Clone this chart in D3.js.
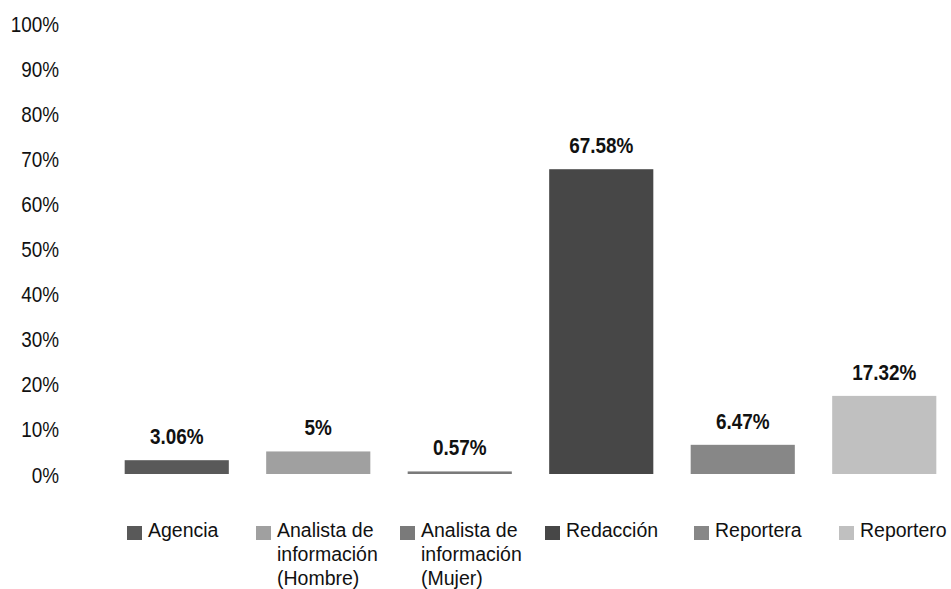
<!DOCTYPE html>
<html>
<head>
<meta charset="utf-8">
<script src="https://cdn.jsdelivr.net/npm/d3@7"></script>
<style>
  html, body { margin: 0; padding: 0; background: #fff; }
  svg { display: block; }
</style>
</head>
<body>
<svg id="chart" width="951" height="589"></svg>
<script>
// Share of items by author type
const categories = ["Agencia", "Analista de información (Hombre)", "Analista de información (Mujer)", "Redacción", "Reportera", "Reportero"];
const legendLines = [["Agencia"], ["Analista de", "información", "(Hombre)"], ["Analista de", "información", "(Mujer)"], ["Redacción"], ["Reportera"], ["Reportero"]];
const values = [3.06, 5, 0.57, 67.58, 6.47, 17.32];
const valueLabels = ["3.06%", "5%", "0.57%", "67.58%", "6.47%", "17.32%"];
const colors = ["#595959", "#a0a0a0", "#7a7a7a", "#474747", "#878787", "#c0c0c0"];
const tickValues = [0, 10, 20, 30, 40, 50, 60, 70, 80, 90, 100];
const tickLabels = ["0%", "10%", "20%", "30%", "40%", "50%", "60%", "70%", "80%", "90%", "100%"];

// Layout
const font = "'Liberation Sans', Arial, sans-serif";
const condense = "scale(0.86,1)";   // condensed look for axis and value labels
const legendX = [127, 256, 400, 545, 694, 839];

const svg = d3.select("#chart");

const y = d3.scaleLinear().domain([0, 100]).range([474, 23]);
const x = d3.scaleBand().domain(categories).range([106, 955])
  .paddingInner(0.264).paddingOuter(0.132);

// Y axis labels (no line, no ticks)
const yAxis = d3.axisLeft(y).tickValues(tickValues)
  .tickFormat((d, i) => tickLabels[i]).tickSize(0).tickPadding(0);
const gy = svg.append("g").attr("transform", "translate(59,1)").call(yAxis);
gy.select(".domain").remove();
gy.selectAll("text")
  .attr("x", 0)
  .attr("transform", condense)
  .attr("font-family", font)
  .attr("font-size", 22)
  .attr("fill", "#111");

// Bars
svg.append("g").selectAll("rect")
  .data(values)
  .join("rect")
  .attr("x", (d, i) => x(categories[i]))
  .attr("width", x.bandwidth())
  .attr("y", d => y(d))
  .attr("height", d => y(0) - y(d))
  .attr("fill", (d, i) => colors[i]);

// Value labels
svg.append("g").selectAll("g")
  .data(values)
  .join("g")
  .attr("transform", (d, i) => `translate(${x(categories[i]) + x.bandwidth() / 2},${y(d) - 16})`)
  .append("text")
  .attr("transform", condense)
  .attr("text-anchor", "middle")
  .attr("font-family", font)
  .attr("font-weight", "bold")
  .attr("font-size", 22)
  .attr("fill", "#111")
  .text((d, i) => valueLabels[i]);

// Legend
const lg = svg.append("g").selectAll("g")
  .data(categories)
  .join("g")
  .attr("transform", (d, i) => `translate(${legendX[i]},0)`);
lg.append("rect")
  .attr("x", 0).attr("y", 526)
  .attr("width", 15).attr("height", 14)
  .attr("fill", (d, i) => colors[i]);
lg.append("text")
  .attr("x", 21).attr("y", 537)
  .attr("font-family", font)
  .attr("font-size", 19.5)
  .attr("fill", "#111")
  .each(function(d, i) {
    d3.select(this).selectAll("tspan")
      .data(legendLines[i])
      .join("tspan")
      .attr("x", 21)
      .attr("dy", (t, j) => j === 0 ? 0 : 24)
      .text(t => t);
  });
</script>
</body>
</html>
